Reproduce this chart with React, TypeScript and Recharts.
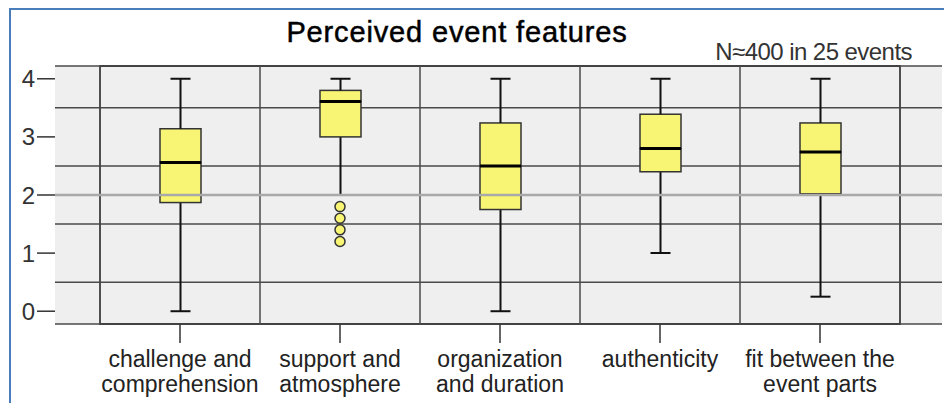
import {
  Bar,
  CartesianGrid,
  ComposedChart,
  ReferenceArea,
  ReferenceLine,
  Scatter,
  XAxis,
  YAxis,
} from "recharts";

const CATEGORIES = [
  "challenge and\ncomprehension",
  "support and\natmosphere",
  "organization\nand duration",
  "authenticity",
  "fit between the\nevent parts",
];
const MINS = [0, 2.0, 0, 1.0, 0.25];
const Q1S = [1.87, 3.0, 1.75, 2.4, 2.02];
const MEDIANS = [2.56, 3.61, 2.5, 2.8, 2.74];
const Q3S = [3.14, 3.8, 3.24, 3.39, 3.24];
const MAXS = [4, 4, 4, 4, 4];
const OUTLIER_CATEGORY = [1, 1, 1, 1];
const OUTLIER_VALUES = [1.8, 1.6, 1.4, 1.2];
const Y_TICKS = [0, 1, 2, 3, 4];
const GRID_Y = [0.5, 1.5, 2.5, 3.5];

const Y_DOMAIN: [number, number] = [-0.22, 4.22];

const FONT = "'Liberation Sans', Arial, sans-serif";
const BOX_FILL = "#f8f574";
const EDGE = "#333";

// stacked segments: invisible base, lower whisker, two halves of the box, upper whisker
const boxData = CATEGORIES.map((name, i) => ({
  name,
  base: MINS[i],
  lowW: Q1S[i] - MINS[i],
  boxLo: MEDIANS[i] - Q1S[i],
  boxHi: Q3S[i] - MEDIANS[i],
  upW: MAXS[i] - Q3S[i],
}));

const outlierData = OUTLIER_VALUES.map((value, i) => ({
  name: CATEGORIES[OUTLIER_CATEGORY[i]],
  value,
}));

function Whisker(props: any, capAtTop: boolean) {
  const { x, y, width, height } = props;
  const cx = x + width / 2;
  const capY = capAtTop ? y : y + height;
  return (
    <g>
      <line x1={cx} x2={cx} y1={y} y2={y + height} stroke="#111" strokeWidth={2} />
      <line x1={cx - 10} x2={cx + 10} y1={capY} y2={capY} stroke="#111" strokeWidth={2} />
    </g>
  );
}

function BoxHalf(props: any, withMedian: boolean) {
  const { x, y, width, height } = props;
  return (
    <g>
      <rect x={x} y={y} width={width} height={height} fill={BOX_FILL} stroke={EDGE} strokeWidth={1.5} />
      {withMedian && (
        <line x1={x} x2={x + width} y1={y + height} y2={y + height} stroke="#000" strokeWidth={3} />
      )}
    </g>
  );
}

function CategoryTick({ x, y, payload }: any) {
  const lines = String(payload.value).split("\n");
  return (
    <text x={x} y={y} textAnchor="middle" fontSize={23} fill="#222" fontFamily={FONT}>
      {lines.map((line, i) => (
        <tspan key={i} x={x} dy={i === 0 ? 24 : 25}>
          {line}
        </tspan>
      ))}
    </text>
  );
}

export default function App() {
  return (
    <div style={{ position: "absolute", left: 0, top: 0, width: 944, height: 403, background: "#fff" }}>
      <div
        style={{
          position: "absolute",
          left: 9,
          top: 8,
          width: 935,
          height: 395,
          borderTop: "2px solid #4a7ebb",
          borderLeft: "2px solid #4a7ebb",
        }}
      />
      <div
        style={{
          position: "absolute",
          left: 257,
          top: 14,
          width: 400,
          textAlign: "center",
          fontFamily: FONT,
          fontSize: 29,
          letterSpacing: 0.85,
          WebkitTextStroke: "0.5px #000",
          color: "#000",
          lineHeight: "36px",
        }}
      >
        Perceived event features
      </div>
      <div
        style={{
          position: "absolute",
          left: 612,
          top: 37,
          width: 300,
          textAlign: "right",
          fontFamily: FONT,
          fontSize: 24,
          letterSpacing: -0.55,
          color: "#333",
          lineHeight: "30px",
        }}
      >
        N≈400 in 25 events
      </div>
      <div style={{ position: "absolute", left: 0, top: 0 }}>
        <ComposedChart
          width={944}
          height={403}
          data={boxData}
          margin={{ top: 66, right: 2, bottom: 0, left: 0 }}
          barCategoryGap={0}
        >
          <XAxis
            xAxisId="c"
            dataKey="name"
            type="category"
            allowDuplicatedCategory={false}
            padding={{ left: 45, right: 42 }}
            axisLine={false}
            tickLine={{ stroke: EDGE, strokeWidth: 1.5 }}
            tickSize={19}
            tickMargin={0}
            tick={<CategoryTick />}
            interval={0}
            height={79}
          />
          <YAxis
            yAxisId="v"
            type="number"
            domain={Y_DOMAIN}
            ticks={Y_TICKS}
            allowDataOverflow
            width={55}
            axisLine={false}
            tickLine={{ stroke: EDGE, strokeWidth: 1.5 }}
            tickSize={18}
            tickMargin={2}
            tick={{ fontSize: 24, fill: "#333", fontFamily: FONT }}
          />
          <YAxis
            yAxisId="g"
            orientation="right"
            type="number"
            domain={Y_DOMAIN}
            ticks={GRID_Y}
            allowDataOverflow
            hide
          />
          <CartesianGrid
            xAxisId="c"
            yAxisId="g"
            vertical={false}
            fill="#efefef"
            fillOpacity={1}
            stroke="#4a4a4a"
            strokeWidth={1.5}
          />
          {CATEGORIES.map((c) => (
            <ReferenceLine key={c} xAxisId="c" yAxisId="v" x={c} position="start" stroke="#4a4a4a" strokeWidth={1.5} />
          ))}
          <ReferenceLine
            xAxisId="c"
            yAxisId="v"
            x={CATEGORIES[CATEGORIES.length - 1]}
            position="end"
            stroke="#4a4a4a"
            strokeWidth={1.5}
          />
          <Bar xAxisId="c" yAxisId="v" dataKey="base" stackId="b" barSize={41} shape={() => <g />} isAnimationActive={false} />
          <Bar xAxisId="c" yAxisId="v" dataKey="lowW" stackId="b" barSize={41} shape={(p: any) => Whisker(p, false)} isAnimationActive={false} />
          <Bar xAxisId="c" yAxisId="v" dataKey="boxLo" stackId="b" barSize={41} shape={(p: any) => BoxHalf(p, false)} isAnimationActive={false} />
          <Bar xAxisId="c" yAxisId="v" dataKey="boxHi" stackId="b" barSize={41} shape={(p: any) => BoxHalf(p, true)} isAnimationActive={false} />
          <Bar xAxisId="c" yAxisId="v" dataKey="upW" stackId="b" barSize={41} shape={(p: any) => Whisker(p, true)} isAnimationActive={false} />
          <Scatter
            xAxisId="c"
            yAxisId="v"
            data={outlierData}
            dataKey="value"
            isAnimationActive={false}
            shape={(p: any) => (
              <circle cx={p.cx} cy={p.cy} r={5} fill={BOX_FILL} stroke={EDGE} strokeWidth={1.5} />
            )}
          />
          <ReferenceLine xAxisId="c" yAxisId="v" y={2} stroke="#a9a9a9" strokeWidth={2.5} />
          <ReferenceArea
            xAxisId="c"
            yAxisId="v"
            y1={Y_DOMAIN[0]}
            y2={Y_DOMAIN[1]}
            fill="none"
            fillOpacity={0}
            stroke={EDGE}
            strokeWidth={1.5}
          />
        </ComposedChart>
      </div>
    </div>
  );
}
